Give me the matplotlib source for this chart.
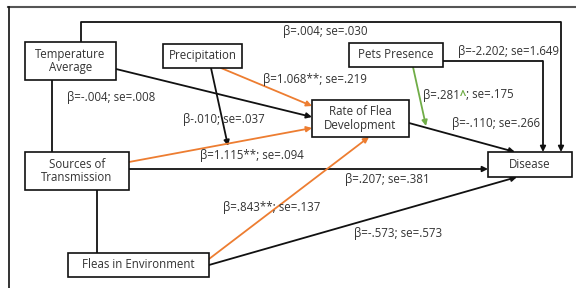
import matplotlib.pyplot as plt
from matplotlib.patches import Rectangle

plt.rcParams['font.family'] = ['Open Sans', 'DejaVu Sans']

# boxes: name -> (x0, y0, x1, y1) in pixel coords of the 576x288 picture
node_names = ['Temperature\nAverage', 'Precipitation', 'Pets Presence',
              'Rate of Flea\nDevelopment', 'Sources of\nTransmission',
              'Fleas in Environment', 'Disease']
node_boxes = [(25, 42, 116, 80), (163, 44, 242, 68), (349, 43, 443, 67),
              (312, 100, 409, 137), (25, 152, 129, 190), (68, 253, 209, 277),
              (488, 152, 572, 177)]

# coefficient labels
coef_labels = ['β=.004; se=.030', 'β=-2.202; se=1.649', 'β=1.068**; se=.219',
               'β=-.110; se=.266', 'β=-.004; se=.008', 'β-.010; se=.037',
               'β=1.115**; se=.094', 'β=.207; se=.381', 'β=.843**; se=.137',
               'β=-.573; se=.573']
coef_pos = [(283, 32), (458, 52), (263, 79), (452, 124), (67, 97), (183, 119),
            (200, 155), (345, 180), (223, 207), (354, 233)]

BLACK = '#111111'
ORANGE = '#ED7D31'
GREEN = '#70AD47'
TXT = '#333333'
FS = 8.3

fig = plt.figure(figsize=(5.76, 2.88), dpi=100)
ax = fig.add_axes([0, 0, 1, 1])
ax.set_xlim(0, 576)
ax.set_ylim(288, 0)
ax.axis('off')

# outer frame (top and left only visible)
ax.plot([8, 576], [7, 7], color='#555555', lw=1.5)
ax.plot([9, 9], [7, 288], color=BLACK, lw=1.2)


def arrow(p0, p1, color=BLACK, lw=1.3):
    ax.annotate('', xy=p1, xytext=p0,
                arrowprops=dict(arrowstyle='-|>', color=color, lw=lw,
                                mutation_scale=8, shrinkA=0, shrinkB=0))


def line(xs, ys, color=BLACK, lw=1.3):
    ax.plot(xs, ys, color=color, lw=lw, solid_capstyle='butt')


# paths
line([81, 81, 561], [42, 22, 22])
arrow((561, 22), (561, 152))
line([443, 543], [61, 61])
arrow((543, 61), (543, 152))
arrow((116, 69), (312, 117))
arrow((409, 123), (515, 152))
arrow((129, 169), (488, 169))
arrow((209, 265), (517, 177))
line([52, 52], [80, 152])
line([97, 97], [190, 253])
arrow((211, 68), (228, 146))
arrow((221, 68), (312, 106), color=ORANGE)
arrow((129, 162), (312, 128), color=ORANGE)
arrow((209, 259), (369, 137), color=ORANGE)
arrow((413, 67), (426, 126), color=GREEN)

# boxes
for name, (x0, y0, x1, y1) in zip(node_names, node_boxes):
    ax.add_patch(Rectangle((x0, y0), x1 - x0, y1 - y0, facecolor='white',
                           edgecolor=BLACK, lw=1.2, zorder=3))
    ax.text((x0 + x1) / 2, (y0 + y1) / 2, name, ha='center', va='center',
            fontsize=FS, color=TXT, linespacing=1.05, zorder=4)

for lab, (x, y) in zip(coef_labels, coef_pos):
    ax.text(x, y, lab, ha='left', va='center', fontsize=FS, color=TXT)

# green caret label
t1 = ax.text(423, 95, 'β=.281', ha='left', va='center', fontsize=FS, color=TXT)
fig.canvas.draw()
bb = t1.get_window_extent().transformed(ax.transData.inverted())
t2 = ax.text(bb.x1, 95, '^', ha='left', va='center', fontsize=FS, color=GREEN,
             fontweight='bold')
bb2 = t2.get_window_extent().transformed(ax.transData.inverted())
ax.text(bb2.x1, 95, '; se=.175', ha='left', va='center', fontsize=FS, color=TXT)

fig.savefig('out.png', dpi=100)
